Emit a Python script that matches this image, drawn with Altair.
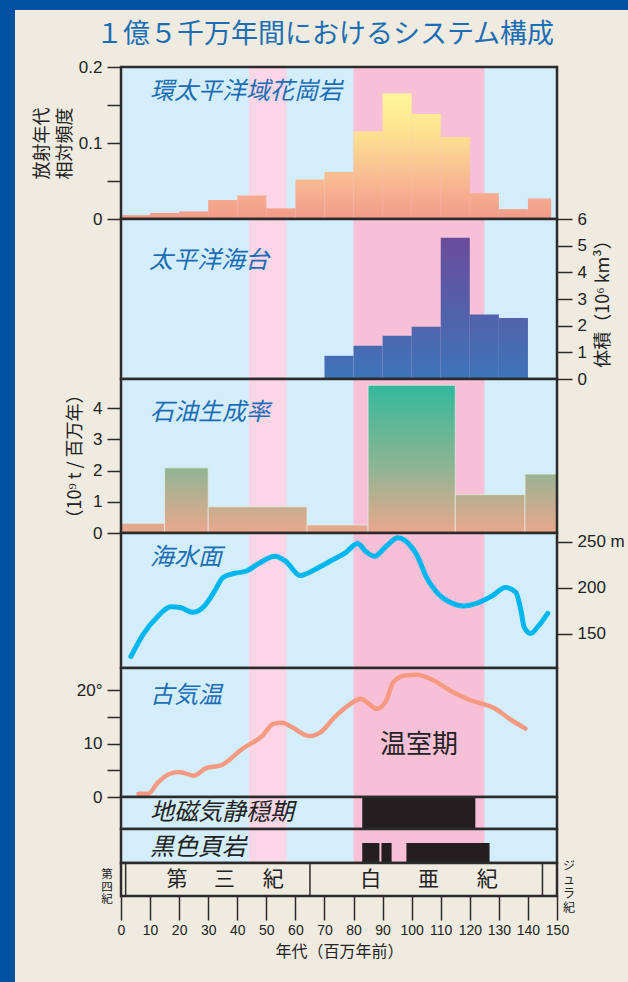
import altair as alt
import pandas as pd

# ---------------- data ----------------
band_start = [44, 80]
band_end = [57, 125]
band_color = ["#fad6e6", "#f8c0d7"]

granite_start = [0, 10, 20, 30, 40, 50, 60, 70, 80, 90, 100, 110, 120, 130, 140]
granite_end = [10, 20, 30, 40, 50, 60, 70, 80, 90, 100, 110, 120, 130, 140, 148]
granite_freq = [0.005, 0.008, 0.010, 0.025, 0.031, 0.014, 0.052, 0.062, 0.115,
                0.165, 0.138, 0.108, 0.034, 0.013, 0.027]

plateau_start = [70, 80, 90, 100, 110, 120, 130]
plateau_end = [80, 90, 100, 110, 120, 130, 140]
plateau_vol = [0.87, 1.25, 1.62, 1.96, 5.3, 2.42, 2.29]

oil_start = [0, 15, 30, 64, 85, 115, 139]
oil_end = [15, 30, 64, 85, 115, 139, 150]
oil_rate = [0.31, 2.09, 0.84, 0.26, 4.74, 1.23, 1.89]

sea_age = [3.4, 7.8, 12.5, 17.1, 20.6, 24.6, 28.7, 32.2, 35.1, 38.5, 43.2, 47.8,
           53.0, 56.5, 61.7, 66.9, 72.7, 77.3, 81.4, 84.3, 87.2, 91.3, 95.3, 98.8,
           101.7, 105.1, 108.6, 113.2, 117.9, 122.5, 127.7, 132.3, 135.8, 137.6,
           138.7, 141.0, 143.3, 146.8]
sea_level = [125, 150, 168, 179, 178, 173, 180, 196, 211, 215, 218, 227, 234, 229,
             213, 220, 230, 238, 248, 239, 234, 245, 254, 248, 236, 211, 195, 184,
             180, 183, 191, 200, 195, 175, 157, 150, 157, 172]

temp_age = [6.0, 9.4, 12.5, 16.2, 20.0, 25.0, 29.3, 34.3, 37.4, 41.2, 48.7, 52.4,
            55.5, 58.7, 64.9, 68.6, 73.6, 78.6, 82.4, 84.9, 88.0, 91.1, 93.6, 97.3,
            101.7, 107.3, 113.6, 119.8, 128.5, 133.5, 139.1]
temp_c = [0.6, 0.6, 2.6, 4.2, 4.7, 4.0, 5.4, 5.9, 7.0, 8.8, 11.5, 13.7, 13.9, 13.1,
          11.4, 12.1, 15.0, 17.3, 18.4, 17.6, 16.5, 17.9, 21.4, 22.7, 22.9, 21.9,
          19.8, 18.2, 16.6, 14.7, 12.8]

quiet_start = [83]
quiet_end = [121.9]
shale_start = [83, 89.6, 98.2]
shale_end = [88.9, 93.1, 126.8]

period_div = [1.6, 65, 145]
period_char = ["第", "三", "紀", "白", "亜", "紀"]
period_pos = [19.3, 35.6, 52.4, 85.9, 105.8, 126.0]
tick_vals = list(range(0, 151, 10))

quaternary_chars = ["第", "四", "紀"]
jurassic_chars = ["ジ", "ュ", "ラ", "紀"]

panel_titles = ["環太平洋域花崗岩", "太平洋海台", "石油生成率", "海水面", "古気温",
                "地磁気静穏期", "黒色頁岩"]
main_title = "１億５千万年間におけるシステム構成"

# ---------------- style ----------------
W = 436
H = [152, 160, 154, 135, 129, 32, 34, 33]
BG = "#efebe0"
SKY = "#d3eefa"
FRAME = "#0051a2"
EDGE = "#2b2b2b"
TXT = "#222222"
BLUE = "#1b6db4"
JP = "Noto Sans CJK JP"
NUM = "Liberation Sans"

granite_stops = [(0, "#f29a8a"), (0.35, "#f9bd92"), (0.7, "#fde391"), (1.0, "#fff79b")]
plateau_stops = [(0, "#3e74b9"), (1.0, "#6a4c9c")]
oil_stops = [(0, "#eba78d"), (0.45, "#8db593"), (1.0, "#33b99b")]


def hex2rgb(h):
    h = h.lstrip("#")
    return [int(h[i:i + 2], 16) for i in (0, 2, 4)]


def rgb2hex(c):
    return "#%02x%02x%02x" % tuple(int(round(v)) for v in c)


def color_at(stops, t):
    t = max(0.0, min(1.0, t))
    for (p0, c0), (p1, c1) in zip(stops, stops[1:]):
        if t <= p1:
            f = (t - p0) / (p1 - p0) if p1 > p0 else 0
            a, b = hex2rgb(c0), hex2rgb(c1)
            return rgb2hex([a[k] + (b[k] - a[k]) * f for k in range(3)])
    return stops[-1][1]


def bar_gradient(stops, frac):
    frac = max(frac, 1e-6)
    out = [alt.GradientStop(offset=p / frac, color=c) for p, c in stops if p < frac]
    out.append(alt.GradientStop(offset=1, color=color_at(stops, frac)))
    return alt.LinearGradient(gradient="linear", stops=out, x1=0, x2=0, y1=1, y2=0)


xs = alt.Scale(domain=[0, 150], nice=False, zero=False)
dummy = pd.DataFrame({"d": [0]})

axis_style = dict(domain=False, grid=False, tickColor=EDGE, tickWidth=1.5, tickSize=14,
                  labelFont=NUM, labelFontSize=17, labelColor=TXT, labelPadding=5,
                  titleFont=JP, titleFontSize=18, titleFontWeight="normal",
                  titleColor=TXT, labelOverlap=False)


def bands():
    df = pd.DataFrame({"s": band_start, "e": band_end, "c": band_color})
    return alt.Chart(df).mark_rect().encode(
        x=alt.X("s:Q", scale=xs, axis=None), x2="e:Q",
        color=alt.Color("c:N", scale=None))


def border(h):
    return alt.Chart(dummy).mark_rect(filled=False, stroke=EDGE, strokeWidth=2.5).encode(
        x=alt.value(0), x2=alt.value(W), y=alt.value(0), y2=alt.value(h))


def label(text, x, y, size=24, color=BLUE, italic=True, font=JP, align="left", **kw):
    return alt.Chart(dummy).mark_text(
        text=text, font=font, fontSize=size, color=color, align=align,
        baseline="middle", fontStyle="italic" if italic else "normal", **kw
    ).encode(x=alt.value(x), y=alt.value(y))


def vertical_label(chars, x, y0, step, size):
    # stacked characters, one per line (vertical writing)
    layers = []
    for k, ch in enumerate(chars):
        layers.append(label(ch, x, y0 + k * step, size=size, color=TXT, italic=False,
                            align="center"))
    return layers


def hist(s, e, v, vmax, stops, y_enc, outline=False):
    df = pd.DataFrame({"s": s, "e": e, "v": v, "i": list(range(len(v)))})
    out = []
    extra = dict(stroke="#e6efe6", strokeOpacity=0.7, strokeWidth=1) if outline else {}
    for i, val in enumerate(v):
        out.append(alt.Chart(df).transform_filter(alt.datum.i == i).mark_rect(
            fill=bar_gradient(stops, val / vmax), **extra).encode(
            x=alt.X("s:Q", scale=xs, axis=None), x2="e:Q", y=y_enc, y2=alt.datum(0)))
    return out


def panel(layers, h, fill=SKY):
    return alt.layer(*layers).properties(
        width=W, height=h, view=alt.ViewBackground(fill=fill, stroke=None))


# ---------------- panel 1: granite ----------------
y1 = alt.Y("v:Q", scale=alt.Scale(domain=[0, 0.2], nice=False),
           axis=alt.Axis(values=[0, 0.05, 0.1, 0.15, 0.2],
                         labelExpr="round(datum.value*100) % 10 == 0 ? format(datum.value, '~g') : ''",
                         title=["放射年代", "相対頻度"], titleAngle=270, titleLineHeight=23,
                         titlePadding=4, **axis_style))
frame_left = alt.Chart(dummy).mark_rect(color=FRAME).encode(
    x=alt.value(-121), x2=alt.value(-106), y=alt.value(-67), y2=alt.value(915))
frame_top = alt.Chart(dummy).mark_rect(color=FRAME).encode(
    x=alt.value(-121), x2=alt.value(507), y=alt.value(-67), y2=alt.value(-57))
title_mark = label(main_title, 204, -32, size=27, italic=False, align="center")
p1 = panel([frame_left, frame_top, title_mark, bands()]
           + hist(granite_start, granite_end, granite_freq, 0.165, granite_stops, y1)
           + [label(panel_titles[0], 29, 25), border(H[0])], H[0])

# ---------------- panel 2: plateaus ----------------
y2 = alt.Y("v:Q", scale=alt.Scale(domain=[0, 6], nice=False),
           axis=alt.Axis(orient="right", values=[0, 1, 2, 3, 4, 5, 6],
                         title="体積（10⁶ km³）", titleAngle=270, titleBaseline="top",
                         titlePadding=8, **{**axis_style, "tickSize": 15}))
p2 = panel([bands()]
           + hist(plateau_start, plateau_end, plateau_vol, 5.3, plateau_stops, y2)
           + [label(panel_titles[1], 28, 42), border(H[1])], H[1])

# ---------------- panel 3: oil ----------------
y3 = alt.Y("v:Q", scale=alt.Scale(domain=[0, 4.94], nice=False),
           axis=alt.Axis(values=[0, 1, 2, 3, 4], title="（10⁹ t / 百万年）",
                         titleAngle=270, titlePadding=8, **axis_style))
p3 = panel([bands()]
           + hist(oil_start, oil_end, oil_rate, 4.74, oil_stops, y3, outline=True)
           + [label(panel_titles[2], 29, 34), border(H[2])], H[2])

# ---------------- panel 4: sea level ----------------
sea_df = pd.DataFrame({"a": sea_age, "m": sea_level})
sea = alt.Chart(sea_df).mark_line(interpolate="monotone", strokeWidth=5, color="#00b6ef",
                                  strokeCap="round").encode(
    x=alt.X("a:Q", scale=xs, axis=None),
    y=alt.Y("m:Q", scale=alt.Scale(domain=[112.5, 259.3], nice=False, zero=False),
            axis=alt.Axis(orient="right", values=[150, 200, 250], title=None,
                          labelExpr="datum.value == 250 ? '250 m' : datum.label",
                          **{**axis_style, "tickSize": 15})))
p4 = panel([bands(), sea, label(panel_titles[3], 29, 25), border(H[3])], H[3])

# ---------------- panel 5: temperature ----------------
temp_df = pd.DataFrame({"a": temp_age, "t": temp_c})
temp = alt.Chart(temp_df).mark_line(interpolate="monotone", strokeWidth=4.5,
                                    color="#f59a80", strokeCap="round").encode(
    x=alt.X("a:Q", scale=xs, axis=None),
    y=alt.Y("t:Q", scale=alt.Scale(domain=[0, 24.15], nice=False),
            axis=alt.Axis(values=[0, 5, 10, 15, 20], title=None,
                          labelExpr="datum.value == 20 ? '20°' : (datum.value % 10 == 0 ? datum.label : '')",
                          **axis_style)))
p5 = panel([bands(), temp, label(panel_titles[4], 29, 28),
            label("温室期", 298, 77, size=26, color=TXT, italic=False, align="center"),
            border(H[4])], H[4])

# ---------------- panel 6: magnetic quiet ----------------
quiet = alt.Chart(pd.DataFrame({"s": quiet_start, "e": quiet_end})).mark_rect(
    color="#231f20").encode(x=alt.X("s:Q", scale=xs, axis=None), x2="e:Q")
p6 = panel([bands(), quiet, label(panel_titles[5], 29, 16, color=TXT), border(H[5])], H[5])

# ---------------- panel 7: black shale ----------------
shale = alt.Chart(pd.DataFrame({"s": shale_start, "e": shale_end})).mark_rect(
    color="#231f20").encode(x=alt.X("s:Q", scale=xs, axis=None), x2="e:Q",
                            y=alt.value(14), y2=alt.value(H[6]))
p7 = panel([bands(), shale, label(panel_titles[6], 29, 19, color=TXT), border(H[6])], H[6])

# ---------------- panel 8: geological periods ----------------
x_axis = alt.Axis(values=tick_vals, tickSize=24, tickColor=EDGE, tickWidth=1.5,
                  labelFont=NUM, labelFontSize=14, labelColor=TXT, labelPadding=3,
                  labelOverlap=False, labelFlush=False, domain=False, grid=False,
                  title="年代（百万年前）", titleFont=JP, titleFontSize=16,
                  titleFontWeight="normal", titleColor=TXT, titlePadding=6)
divs = alt.Chart(pd.DataFrame({"s": period_div})).mark_rule(
    color=EDGE, strokeWidth=1.5).encode(x=alt.X("s:Q", scale=xs, axis=x_axis))
chars = alt.Chart(pd.DataFrame({"s": period_pos, "c": period_char})).mark_text(
    font=JP, fontSize=21, color=TXT, baseline="middle").encode(
    x=alt.X("s:Q", scale=xs, axis=x_axis), y=alt.value(H[7] / 2), text="c:N")
quat = vertical_label(quaternary_chars, -14, 12, 12.5, 11.5)
jura = vertical_label(jurassic_chars, 448, 3, 14, 12)
p8 = panel([divs, chars] + quat + jura + [border(H[7])], H[7], fill=BG)

chart = alt.vconcat(p1, p2, p3, p4, p5, p6, p7, p8, spacing=0, bounds="flush").properties(
    padding=0, background=BG).configure_view(stroke=None)

chart.save("out.html", embed_options={"renderer": "svg", "actions": False})
